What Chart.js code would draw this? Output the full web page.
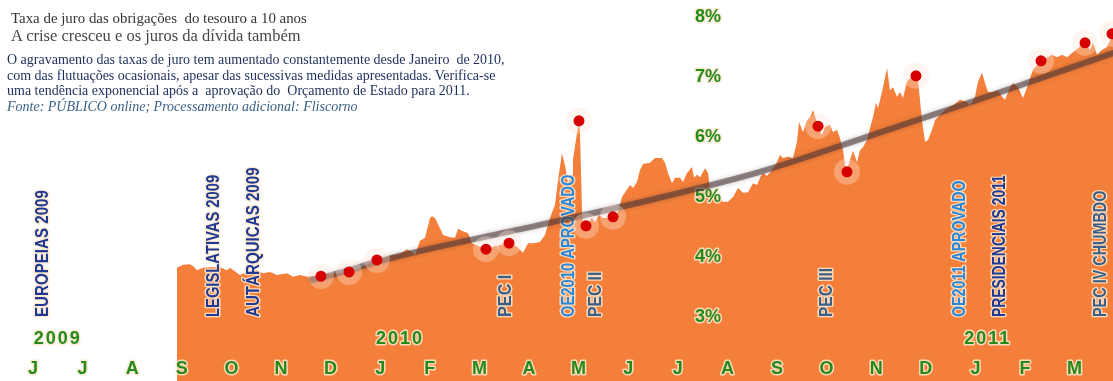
<!DOCTYPE html>
<html lang="pt">
<head>
<meta charset="utf-8">
<script src="https://cdn.jsdelivr.net/npm/chart.js@4.4.1/dist/chart.umd.min.js"></script>
<style>
html,body{margin:0;padding:0;background:#fff;overflow:hidden;}
#wrap{position:relative;width:1113px;height:381px;}
#c{position:absolute;left:0;top:0;}
.t{position:absolute;white-space:pre;font-family:'Liberation Serif','DejaVu Serif',serif;line-height:normal;}
#title{left:11px;top:9.5px;font-size:14.9px;color:#353535;}
#sub{left:11px;top:26px;font-size:16.5px;color:#474747;}
#desc{left:7px;top:52px;font-size:14px;line-height:15.7px;color:#1c2e5c;}
#desc i{color:#3b6187;}
</style>
</head>
<body>
<div id="wrap">
<canvas id="c" width="1113" height="381"></canvas>
<div class="t" id="title">Taxa de juro das obrigações  do tesouro a 10 anos</div>
<div class="t" id="sub">A crise cresceu e os juros da dívida também</div>
<div class="t" id="desc">O agravamento das taxas de juro tem aumentado constantemente desde Janeiro  de 2010,
com das flutuações ocasionais, apesar das sucessivas medidas apresentadas. Verifica-se
uma tendência exponencial após a  aprovação do  Orçamento de Estado para 2011.
<i>Fonte: PÚBLICO online; Processamento adicional: Fliscorno</i></div>
</div>
<script>
// ---- data (x = months since June 2009, y = yield in %) ----
const monthLetters = ['J','J','A','S','O','N','D','J','F','M','A','M','J','J','A','S','O','N','D','J','F','M'];
const yearLabels = ['2009','2010','2011'];
const yearMonths = [0.5, 7.4, 19.25];
const pctTicks = [3,4,5,6,7,8];

const sampleMonths = [2.903,3.024,3.165,3.226,3.306,3.427,3.569,3.770,3.911,3.972,
4.173,4.315,4.516,4.637,4.778,4.919,5.121,5.242,5.383,5.524,
5.665,5.806,5.948,6.089,6.230,6.371,6.512,6.653,6.794,6.935,
7.077,7.238,7.399,7.540,7.661,7.702,7.802,7.903,8.004,8.044,
8.105,8.206,8.266,8.407,8.508,8.569,8.669,8.770,8.851,9.012,
9.133,9.274,9.415,9.597,9.758,9.879,9.980,10.081,10.222,10.323,
10.423,10.524,10.585,10.665,10.726,10.786,10.867,10.887,10.968,11.008,
11.028,11.069,11.089,11.149,11.270,11.331,11.411,11.492,11.593,11.694,
11.794,11.875,12.036,12.097,12.177,12.238,12.298,12.440,12.540,12.681,
12.742,12.802,12.883,12.944,13.044,13.105,13.185,13.286,13.327,13.387,
13.448,13.548,13.609,13.649,13.790,13.911,14.012,14.113,14.214,14.315,
14.415,14.516,14.597,14.657,14.718,14.798,14.899,15.000,15.060,15.121,
15.222,15.323,15.403,15.444,15.524,15.605,15.665,15.726,15.827,15.907,
15.968,16.069,16.129,16.210,16.270,16.331,16.371,16.411,16.472,16.532,
16.613,16.673,16.734,16.815,16.875,16.935,16.996,17.036,17.117,17.218,
17.278,17.339,17.419,17.480,17.540,17.621,17.681,17.802,17.843,17.923,
17.984,18.044,18.125,18.185,18.286,18.387,18.548,18.690,18.831,18.891,
18.992,19.052,19.133,19.194,19.254,19.355,19.456,19.536,19.597,19.698,
19.758,19.859,19.960,20.040,20.101,20.161,20.323,20.444,20.544,20.645,
20.746,20.847,20.948,21.069,21.210,21.310,21.371,21.452,21.552,21.653,
21.790];

const yieldPct = [3.82,3.87,3.88,3.85,3.78,3.82,3.83,3.83,3.78,3.82,
3.70,3.75,3.78,3.73,3.75,3.70,3.73,3.67,3.70,3.67,
3.68,3.68,3.72,3.73,3.73,3.75,3.78,3.85,3.90,3.95,
3.98,4.03,4.05,4.13,4.08,4.03,4.27,4.32,4.65,4.68,
4.65,4.48,4.37,4.33,4.32,4.47,4.43,4.40,4.23,4.17,
4.13,4.17,4.20,4.23,4.17,4.07,4.23,4.23,4.25,4.37,
4.65,4.87,5.28,5.73,5.53,5.23,5.37,5.62,6.07,6.27,
6.07,4.78,4.57,4.52,4.65,4.58,4.70,4.65,4.65,4.67,
4.75,5.00,5.20,5.15,5.25,5.45,5.55,5.57,5.65,5.65,
5.57,5.40,5.23,5.32,5.32,5.25,5.40,5.50,5.32,5.37,
5.33,5.48,5.40,5.12,5.00,4.92,4.92,5.00,5.15,5.07,
5.08,5.23,5.20,5.32,5.40,5.35,5.45,5.58,5.70,5.65,
5.67,5.65,5.92,6.25,6.08,6.28,6.33,6.45,6.18,6.03,
6.17,6.20,6.08,6.12,5.98,5.78,5.53,5.45,5.62,5.77,
5.58,5.78,5.83,5.95,6.15,6.33,6.57,6.48,6.75,7.15,
6.78,6.83,6.67,6.75,6.65,6.92,6.98,7.02,6.95,6.28,
5.92,5.95,6.12,6.28,6.37,6.45,6.53,6.62,6.58,6.53,
6.67,6.92,7.07,6.90,6.75,6.75,6.78,6.67,6.62,6.82,
6.90,6.83,6.65,6.82,6.98,7.12,7.27,7.32,7.37,7.33,
7.37,7.33,7.40,7.48,7.57,7.45,7.57,7.37,7.45,7.50,
7.73];

const markMonths = [5.806,6.371,6.935,9.133,9.597,11.008,11.149,11.694,15.827,16.411,17.802,20.323,21.210,21.754];
const markPct    = [3.68,3.75,3.95,4.13,4.23,6.27,4.52,4.67,6.18,5.42,7.02,7.27,7.57,7.72];

const trendMonths = [5.625,5.786,7.399,9.919,12.440,14.657,16.875,19.335,21.774];
const trendPct    = [3.62,3.65,4.02,4.48,4.95,5.42,6.02,6.70,7.40];

const eventNames  = ['EUROPEIAS 2009','LEGISLATIVAS 2009','AUTÁRQUICAS 2009','PEC I','OE2010 APROVADO','PEC II','PEC III','OE2011 APROVADO','PRESIDENCIAIS 2011','PEC IV CHUMBDO'];
const eventMonths = [0.196,3.649,4.456,9.536,10.817,11.361,16.008,18.700,19.506,21.532];
const eventKinds  = ['eleicao','eleicao','eleicao','pec','oe','pec','pec','oe','eleicao','pec'];

// ---- styles / layout ----
const ORANGE = '#f37f3a';
const GREEN = '#258a1c';
const OUTLINE = 'rgba(255,232,205,0.85)';
const kindColor = {eleicao:'#1f3a93', oe:'#2a88d8', pec:'#3c5f86'};
const eventSqueeze = [0.84,0.82,0.84,0.90,0.82,0.87,0.86,0.79,0.77,0.80];
const X_MIN = -0.665, X_MAX = 21.774, Y_MIN = 1.933, Y_MAX = 8.283;
const MONTH_ROW = 2.14, YEAR_ROW = 2.64, PCT_COL = 13.61, EVENT_BASE = 3.0;

const labelsPlugin = {
  id: 'labels',
  beforeDatasetDraw(chart, args) {
    if (args.index === 1) {
      const ctx = chart.ctx;
      ctx.save();
      ctx.shadowColor = 'rgba(70,45,45,0.55)';
      ctx.shadowBlur = 4;
    }
  },
  afterDatasetDraw(chart, args) {
    const ctx = chart.ctx;
    if (args.index === 1) { ctx.restore(); return; }
    if (args.index !== 0) return;
    const xs = chart.scales.x, ys = chart.scales.y;
    ctx.save();
    ctx.lineJoin = 'round';
    ctx.strokeStyle = OUTLINE;
    ctx.lineWidth = 3;
    // event labels (vertical)
    ctx.font = 'bold 18px "Liberation Sans", Arial, sans-serif';
    ctx.textAlign = 'left';
    ctx.textBaseline = 'middle';
    eventNames.forEach((name, i) => {
      const x = xs.getPixelForValue(eventMonths[i]);
      const y = ys.getPixelForValue(EVENT_BASE);
      ctx.save();
      ctx.translate(x, y);
      ctx.rotate(-Math.PI / 2);
      ctx.scale(eventSqueeze[i], 1);
      ctx.fillStyle = kindColor[eventKinds[i]];
      ctx.strokeText(name, 0, 0);
      ctx.fillText(name, 0, 0);
      ctx.restore();
    });
    // month letters
    ctx.font = 'bold 18px "Liberation Sans", Arial, sans-serif';
    ctx.textAlign = 'center';
    ctx.fillStyle = GREEN;
    monthLetters.forEach((t, i) => {
      const x = xs.getPixelForValue(i), y = ys.getPixelForValue(MONTH_ROW);
      ctx.strokeText(t, x, y); ctx.fillText(t, x, y);
    });
    // years
    ctx.letterSpacing = '2px';
    yearLabels.forEach((t, i) => {
      const x = xs.getPixelForValue(yearMonths[i]), y = ys.getPixelForValue(YEAR_ROW);
      ctx.strokeText(t, x, y); ctx.fillText(t, x, y);
    });
    ctx.letterSpacing = '0px';
    // percent ticks
    pctTicks.forEach(v => {
      const x = xs.getPixelForValue(PCT_COL), y = ys.getPixelForValue(v);
      const s = v + '%';
      ctx.strokeText(s, x, y); ctx.fillText(s, x, y);
    });
    ctx.restore();
  }
};

new Chart(document.getElementById('c'), {
  type: 'line',
  data: {
    datasets: [
      { label: 'Taxa de juro a 10 anos', order: 4,
        data: sampleMonths.map((m, i) => ({x: m, y: yieldPct[i]})),
        fill: 'start', backgroundColor: ORANGE, borderWidth: 0, pointRadius: 0, tension: 0 },
      { label: 'Tendência', order: 3,
        data: trendMonths.map((m, i) => ({x: m, y: trendPct[i]})),
        borderColor: 'rgba(75,52,52,0.55)', borderWidth: 6, borderCapStyle: 'round',
        pointRadius: 0, fill: false, cubicInterpolationMode: 'monotone' },
      { label: 'halo', type: 'scatter', order: 2,
        data: markMonths.map((m, i) => ({x: m, y: markPct[i]})),
        pointRadius: 13, backgroundColor: 'rgba(255,230,218,0.35)', borderWidth: 0 },
      { label: 'Eventos', type: 'scatter', order: 1,
        data: markMonths.map((m, i) => ({x: m, y: markPct[i]})),
        pointRadius: 5.5, backgroundColor: '#d60000', borderWidth: 0 }
    ]
  },
  options: {
    responsive: false, animation: false, devicePixelRatio: 1,
    layout: { padding: 0, autoPadding: false },
    plugins: { legend: { display: false }, tooltip: { enabled: false } },
    scales: {
      x: { type: 'linear', min: X_MIN, max: X_MAX, display: false },
      y: { type: 'linear', min: Y_MIN, max: Y_MAX, display: false }
    }
  },
  plugins: [labelsPlugin]
});
</script>
</body>
</html>
